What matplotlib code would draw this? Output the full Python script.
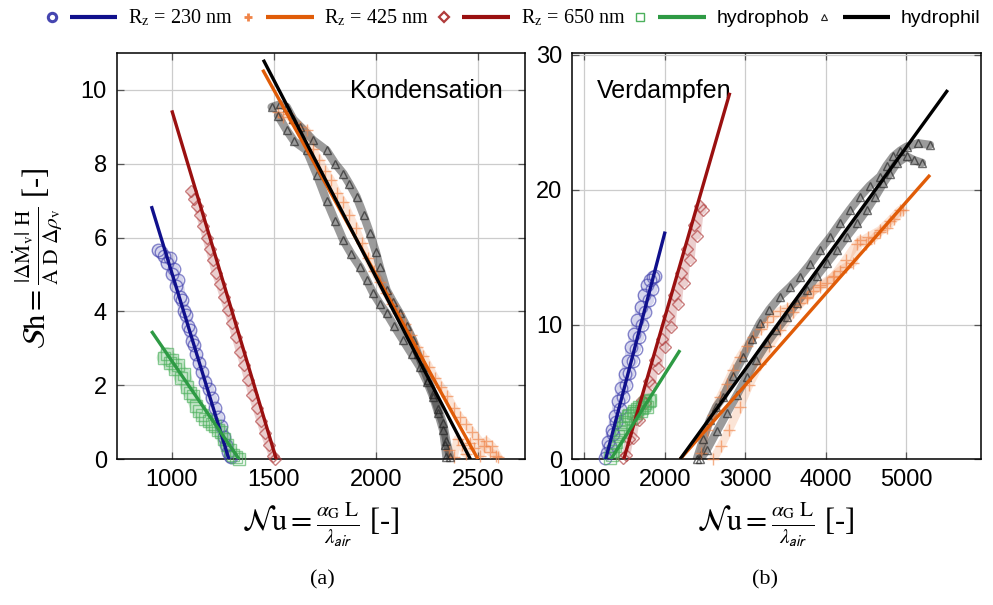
import matplotlib
matplotlib.use("Agg")
import matplotlib.pyplot as plt
from matplotlib.lines import Line2D
from matplotlib.legend_handler import HandlerBase

plt.rcParams['font.family'] = ['Liberation Sans', 'DejaVu Sans']
plt.rcParams['mathtext.fontset'] = 'stix'

# ---------------- data: Kondensation (a) ----------------
cond_fit_230_x = [900, 1280]
cond_fit_230_y = [6.85, 0.0]
cond_fit_425_x = [1445, 2500]
cond_fit_425_y = [10.54, 0.0]
cond_fit_650_x = [1000, 1512]
cond_fit_650_y = [9.44, 0.0]
cond_fit_phob_x = [900, 1330]
cond_fit_phob_y = [3.47, 0.0]
cond_fit_phil_x = [1448, 2463]
cond_fit_phil_y = [10.81, 0.0]

cond_230_x = [930, 945, 960, 975, 990, 1000, 1010, 1020, 1030, 1040, 1050, 1060, 1070, 1080, 1090,
              1100, 1110, 1120, 1135, 1150, 1165, 1180, 1195, 1210, 1225, 1240, 1255, 1265, 1275, 1285, 1290]
cond_230_y = [5.65, 5.60, 5.50, 5.30, 5.45, 5.00, 5.15, 4.70, 4.85, 4.40, 4.30, 4.00, 3.90, 3.60, 3.50,
              3.20, 3.10, 2.85, 2.60, 2.35, 2.10, 1.90, 1.65, 1.40, 1.15, 0.90, 0.60, 0.40, 0.20, 0.08, 0.05]

cond_phob_x = [960, 975, 990, 1000, 1015, 1030, 1045, 1060, 1075, 1090, 1105, 1120, 1135, 1150, 1165,
               1180, 1195, 1210, 1225, 1240, 1255, 1270, 1285, 1300, 1315, 1330]
cond_phob_y = [2.75, 2.85, 2.60, 2.70, 2.45, 2.55, 2.20, 2.30, 1.95, 1.80, 1.70, 1.45, 1.30, 1.20, 1.10,
               1.05, 0.95, 0.90, 0.80, 0.75, 0.55, 0.40, 0.25, 0.12, 0.05, 0.02]

cond_650_x = [1095, 1110, 1125, 1140, 1155, 1170, 1185, 1200, 1215, 1235, 1255, 1275, 1295, 1315, 1335,
              1355, 1375, 1395, 1415, 1435, 1455, 1475, 1495, 1505]
cond_650_y = [7.25, 7.05, 6.85, 6.60, 6.30, 6.00, 5.70, 5.40, 5.05, 4.75, 4.40, 4.05, 3.70, 3.30, 2.90,
              2.55, 2.15, 1.75, 1.40, 1.05, 0.70, 0.40, 0.10, 0.00]

cond_425_x = [1520, 1545, 1570, 1600, 1630, 1660, 1690, 1720, 1750, 1780, 1810, 1840, 1870, 1900, 1930,
              1960, 1990, 2020, 2050, 2080, 2110, 2140, 2170, 2200, 2230, 2260, 2290, 2320, 2350, 2380,
              2410, 2440, 2470, 2500, 2530, 2560, 2590]
cond_425_y = [9.40, 9.25, 9.35, 9.10, 9.00, 8.90, 8.40, 8.10, 7.80, 7.55, 7.20, 6.95, 6.60, 6.25, 5.85,
              5.45, 5.10, 4.80, 4.50, 4.20, 3.95, 3.65, 3.35, 3.05, 2.80, 2.50, 2.20, 1.95, 1.70, 1.40,
              1.15, 0.95, 0.75, 0.55, 0.35, 0.20, 0.08]
cond_425_low_x = [2360, 2380, 2400, 2420, 2440, 2460, 2480, 2510, 2540, 2570, 2600]
cond_425_low_y = [0.25, 0.05, 0.55, 0.40, 0.15, 0.45, 0.30, 0.10, 0.50, 0.35, 0.05]

cond_phil_a_x = [1489, 1530, 1563, 1595, 1630, 1693, 1758, 1800, 1840, 1870, 1905, 1940, 1971, 2000, 2019,
                 2052, 2085, 2117, 2150, 2182, 2205, 2231, 2255, 2280, 2305, 2329, 2345, 2362]
cond_phil_a_y = [9.53, 9.60, 9.53, 9.20, 9.00, 8.63, 8.36, 8.00, 7.73, 7.45, 7.10, 6.60, 6.11, 5.60, 5.20,
                 4.58, 4.25, 3.95, 3.60, 3.22, 2.85, 2.50, 2.15, 1.78, 1.35, 0.97, 0.50, 0.07]
cond_phil_b_x = [1520, 1563, 1600, 1660, 1710, 1758, 1800, 1840, 1880, 1922, 1955, 1987, 2020, 2052,
                 2090, 2133, 2175, 2215, 2250, 2280, 2305, 2329, 2338, 2345]
cond_phil_b_y = [9.30, 8.90, 8.60, 8.36, 7.70, 7.00, 6.45, 5.93, 5.55, 5.20, 4.85, 4.49, 4.20, 3.95,
                 3.60, 3.22, 2.85, 2.50, 2.10, 1.69, 1.25, 0.79, 0.40, 0.07]

# ---------------- data: Verdampfen (b) ----------------
evap_fit_230_x = [1265, 2005]
evap_fit_230_y = [0.0, 16.9]
evap_fit_425_x = [2190, 5300]
evap_fit_425_y = [0.0, 21.1]
evap_fit_650_x = [1490, 2810]
evap_fit_650_y = [0.0, 27.2]
evap_fit_phob_x = [1330, 2190]
evap_fit_phob_y = [0.0, 8.1]
evap_fit_phil_x = [2190, 5520]
evap_fit_phil_y = [0.0, 27.4]

evap_230_x = [1260, 1280, 1300, 1320, 1340, 1360, 1380, 1400, 1420, 1440, 1460, 1480, 1500, 1520, 1540,
              1560, 1580, 1600, 1620, 1640, 1660, 1680, 1700, 1720, 1740, 1760, 1780, 1800, 1820, 1840,
              1860, 1880]
evap_230_y = [0.1, 0.5, 1.3, 1.0, 2.2, 1.9, 3.2, 2.8, 4.3, 3.7, 5.3, 4.6, 6.3, 5.5, 7.3,
              6.4, 8.3, 7.3, 9.3, 8.2, 10.3, 9.1, 11.3, 10.0, 12.2, 10.9, 12.9, 11.8, 13.3, 12.6,
              13.5, 13.6]

evap_650_x = [1480, 1520, 1560, 1600, 1640, 1680, 1720, 1760, 1800, 1840, 1880, 1920, 1960, 2000, 2040,
              2080, 2120, 2160, 2200, 2240, 2280, 2320, 2360, 2400, 2440, 2470]
evap_650_y = [0.1, 0.3, 1.5, 1.6, 3.0, 2.9, 4.4, 4.2, 5.8, 5.5, 7.4, 6.8, 8.9, 8.3, 10.6,
              9.8, 12.2, 11.5, 13.8, 13.1, 15.6, 14.8, 17.4, 16.6, 18.8, 18.5]

evap_phob_x = [1320, 1340, 1360, 1380, 1400, 1420, 1440, 1460, 1480, 1500, 1520, 1540, 1560, 1580, 1600,
               1620, 1640, 1660, 1680, 1700, 1720, 1740, 1760, 1780, 1800, 1820]
evap_phob_y = [0.1, 0.3, 0.6, 1.0, 1.3, 1.7, 2.0, 2.3, 2.6, 2.8, 3.0, 3.2, 3.3, 3.1, 3.4,
               3.6, 3.4, 3.7, 3.9, 3.6, 3.8, 4.0, 4.2, 3.9, 4.3, 4.4]

evap_425_a_x = [2450, 2522, 2600, 2690, 2771, 2850, 2935, 3020, 3102, 3200, 3270, 3351, 3430, 3520, 3600,
                3683, 3770, 3850, 3930, 4015, 4100, 4180, 4260, 4346, 4429, 4500, 4600, 4680, 4760, 4850,
                4968]
evap_425_a_y = [0.5, 2.2, 3.3, 4.6, 5.6, 6.6, 7.6, 8.4, 9.1, 9.7, 10.2, 10.6, 11.0, 11.2, 11.4,
                11.6, 12.0, 12.5, 12.8, 13.1, 13.6, 14.0, 14.3, 14.6, 16.3, 16.0, 16.4, 16.9, 17.2, 17.8,
                18.5]
evap_425_b_x = [2604, 2700, 2800, 2935, 3050, 3185, 3300, 3434, 3600, 3766, 3930, 4097, 4250, 4388, 4530,
                4678, 4800, 4926]
evap_425_b_y = [0.0, 1.0, 2.2, 3.9, 5.5, 7.1, 8.4, 9.6, 10.9, 12.08, 12.9, 13.56, 14.8, 16.0, 16.5,
                17.0, 17.7, 18.5]

evap_phil_a_x = [2398, 2480, 2560, 2640, 2729, 2850, 2978, 3080, 3185, 3300, 3434, 3560, 3683, 3810, 3932,
                 4060, 4180, 4300, 4429, 4550, 4678, 4760, 4843, 4930, 5010, 5150, 5299]
evap_phil_a_y = [0.0, 1.5, 2.9, 3.9, 4.65, 6.2, 7.62, 8.9, 10.1, 11.1, 12.08, 12.8, 13.56, 14.5, 15.54,
                 16.5, 17.52, 18.5, 19.5, 20.3, 20.98, 21.8, 22.47, 22.9, 23.2, 23.45, 23.33]
evap_phil_b_x = [2440, 2522, 2650, 2771, 2900, 3020, 3140, 3269, 3390, 3517, 3640, 3766, 3890, 4015,
                 4140, 4264, 4390, 4512, 4620, 4719, 4800, 4886, 5010, 5100, 5200]
evap_phil_b_y = [0.0, 0.69, 2.1, 3.41, 4.8, 6.13, 7.4, 8.61, 9.6, 10.59, 11.6, 12.57, 13.6, 14.55,
                 15.5, 16.53, 17.5, 18.51, 19.5, 20.49, 21.2, 21.97, 22.47, 22.2, 22.0]

labels = [r'R$_\mathrm{z}$ = 230 nm', r'R$_\mathrm{z}$ = 425 nm', r'R$_\mathrm{z}$ = 650 nm',
          'hydrophob', 'hydrophil']
x_ticks_a = [1000, 1500, 2000, 2500]
y_ticks_a = [0, 2, 4, 6, 8, 10]
x_ticks_b = [1000, 2000, 3000, 4000, 5000]
y_ticks_b = [0, 10, 20, 30]

# ---------------- styles ----------------
line_cols = ['#10108c', '#e05c08', '#9a1010', '#2e9a44', '#000000']
mark_cols = ['#4646b0', '#f08448', '#b03c3c', '#4cb05c', '#222222']
markers = ['o', '+', 'D', 's', '^']
msizes = [9, 8, 6, 9, 6]
band_w = [8, 6, 6, 10, 6]
band_a = [0.22, 0.22, 0.25, 0.30, 0.45]

fig = plt.figure(figsize=(9.93, 6.05), dpi=100)
ax1 = fig.add_axes([0.1175, 0.2408, 0.4112, 0.6721])
ax2 = fig.add_axes([0.5763, 0.2408, 0.4113, 0.6721])

cond_sc = [[(cond_230_x, cond_230_y)],
           [(cond_425_x, cond_425_y), (cond_425_low_x, cond_425_low_y)],
           [(cond_650_x, cond_650_y)],
           [(cond_phob_x, cond_phob_y)],
           [(cond_phil_a_x, cond_phil_a_y), (cond_phil_b_x, cond_phil_b_y)]]
cond_fit = [(cond_fit_230_x, cond_fit_230_y), (cond_fit_425_x, cond_fit_425_y),
            (cond_fit_650_x, cond_fit_650_y), (cond_fit_phob_x, cond_fit_phob_y),
            (cond_fit_phil_x, cond_fit_phil_y)]
evap_sc = [[(evap_230_x, evap_230_y)],
           [(evap_425_a_x, evap_425_a_y), (evap_425_b_x, evap_425_b_y)],
           [(evap_650_x, evap_650_y)],
           [(evap_phob_x, evap_phob_y)],
           [(evap_phil_a_x, evap_phil_a_y), (evap_phil_b_x, evap_phil_b_y)]]
evap_fit = [(evap_fit_230_x, evap_fit_230_y), (evap_fit_425_x, evap_fit_425_y),
            (evap_fit_650_x, evap_fit_650_y), (evap_fit_phob_x, evap_fit_phob_y),
            (evap_fit_phil_x, evap_fit_phil_y)]

for ax, scs, fits in [(ax1, cond_sc, cond_fit), (ax2, evap_sc, evap_fit)]:
    for i, strands in enumerate(scs):
        for (xs, ys) in strands:
            ax.plot(xs, ys, color=mark_cols[i], lw=band_w[i], alpha=band_a[i], zorder=2,
                    solid_joinstyle='round', solid_capstyle='round')
            ax.plot(xs, ys, ls='none', marker=markers[i], ms=msizes[i], mfc='none',
                    mec=mark_cols[i], mew=1.0, alpha=0.65, zorder=3, clip_on=False)
    for i, (xs, ys) in enumerate(fits):
        ax.plot(xs, ys, color=line_cols[i], lw=2.4, zorder=4, solid_capstyle='butt')

ax1.set_xlim(730, 2730)
ax1.set_ylim(0, 11)
ax1.set_xticks(x_ticks_a)
ax1.set_yticks(y_ticks_a)
ax2.set_xlim(850, 5930)
ax2.set_ylim(0, 30.17)
ax2.set_xticks(x_ticks_b)
ax2.set_yticks(y_ticks_b)

for ax in (ax1, ax2):
    ax.grid(True, color='#cccccc', lw=0.9, zorder=0)
    ax.set_axisbelow(True)
    ax.tick_params(direction='in', top=True, right=True, length=5, width=0.9,
                   color='#555555', labelsize=17, pad=7)
    for s in ax.spines.values():
        s.set_linewidth(1.1)
        s.set_color('black')

ax1.text(0.945, 0.935, 'Kondensation', transform=ax1.transAxes, ha='right', va='top', fontsize=18)
ax2.text(0.06, 0.935, 'Verdampfen', transform=ax2.transAxes, ha='left', va='top', fontsize=18)

xlab = r'$\mathcal{N}\mathrm{u} = \frac{\alpha_\mathrm{G}\ \mathrm{L}}{\lambda_\mathsf{air}}$ [-]'
fig.text(321 / 993, 1 - 525 / 605, xlab, ha='center', va='center', fontsize=22,
         family='Liberation Serif')
fig.text(776 / 993, 1 - 525 / 605, xlab, ha='center', va='center', fontsize=22,
         family='Liberation Serif')
ylab = r'$\mathcal{S}\mathrm{h} = \frac{|\Delta\dot{\mathrm{M}}_\mathrm{v}|\ \mathrm{H}}{\mathrm{A\ D}\ \Delta\rho_\mathrm{v}}$ [-]'
fig.text(37 / 993, 1 - 258 / 605, ylab, ha='center', va='center', rotation=90, fontsize=22,
         family='Liberation Serif')
fig.text(322 / 993, 1 - 580 / 605, '(a)', ha='center', va='center', fontsize=16, family='Liberation Serif')
fig.text(765 / 993, 1 - 580 / 605, '(b)', ha='center', va='center', fontsize=16, family='Liberation Serif')


class MarkerLineHandler(HandlerBase):
    def create_artists(self, legend, orig_handle, xdescent, ydescent, width, height, fontsize, trans):
        mk, ln = orig_handle
        y = height / 2 - ydescent
        x0 = -xdescent
        m = Line2D([x0 + 3], [y], ls='none', marker=mk.get_marker(), ms=mk.get_markersize(),
                   mfc='none', mec=mk.get_markeredgecolor(), mew=mk.get_markeredgewidth(),
                   transform=trans)
        l = Line2D([x0 + 16, x0 + width], [y, y], color=ln.get_color(), lw=ln.get_linewidth(),
                   transform=trans, solid_capstyle='butt')
        return [m, l]


leg_ms = [6, 6, 5, 6, 5]
leg_mew = [2.2, 2.0, 1.6, 1.0, 0.8]
handles = []
for i in range(5):
    mk = Line2D([], [], ls='none', marker=markers[i], ms=leg_ms[i], mec=mark_cols[i], mew=leg_mew[i])
    ln = Line2D([], [], color=line_cols[i], lw=3)
    handles.append((mk, ln))

leg = fig.legend(handles, labels, loc='center', bbox_to_anchor=(514 / 993, 1 - 18 / 605), ncol=5,
                 frameon=False, handler_map={tuple: MarkerLineHandler()}, handlelength=3.6,
                 handletextpad=0.55, columnspacing=0.55, fontsize=14, borderpad=0)
for t in leg.get_texts()[:3]:
    t.set_family('Liberation Serif')
    t.set_fontsize(14.5)

fig.savefig('out.png', dpi=100)
